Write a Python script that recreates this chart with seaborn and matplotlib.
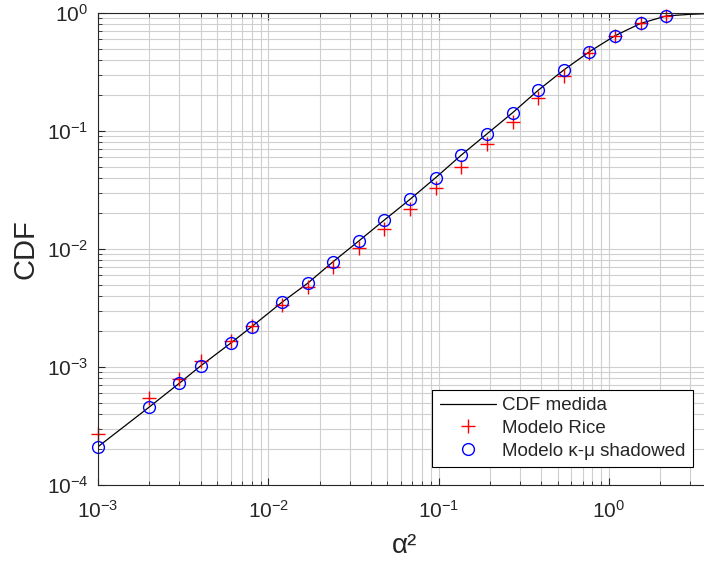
import numpy as np
import pandas as pd
import matplotlib
matplotlib.use("Agg")
import matplotlib.pyplot as plt
import seaborn as sns

# alpha^2 sample points (log spaced)
alpha2 = [0.001, 0.002, 0.003, 0.004, 0.006, 0.008, 0.012, 0.017, 0.024, 0.034,
          0.048, 0.068, 0.096, 0.136, 0.192, 0.272, 0.385, 0.543, 0.768, 1.086,
          1.536, 2.17]

# kappa-mu shadowed model
cdf_kmu = [2.11e-4, 4.58e-4, 7.28e-4, 1.02e-3, 1.59e-3, 2.2e-3, 3.53e-3, 5.12e-3,
           7.8e-3, 0.0117, 0.0176, 0.0264, 0.0402, 0.0626, 0.0944, 0.143, 0.222,
           0.329, 0.47, 0.642, 0.817, 0.944]

# Rice model
cdf_rice = [2.7e-4, 5.43e-4, 7.87e-4, 1.12e-3, 1.66e-3, 2.22e-3, 3.35e-3, 4.8e-3,
            7.1e-3, 0.0102, 0.0148, 0.0217, 0.0327, 0.0499, 0.0776, 0.1185, 0.191,
            0.292, 0.455, 0.642, 0.817, 0.944]

# measured CDF (follows the kappa-mu points, then flattens toward 1)
alpha2_meas = alpha2 + [3.0, 4.0]
cdf_meas = cdf_kmu + [0.975, 0.99]

sns.set_theme(style="ticks")
plt.rcParams['font.family'] = ['Liberation Sans', 'DejaVu Sans']
plt.rcParams['mathtext.fontset'] = 'custom'
plt.rcParams['mathtext.rm'] = 'Liberation Sans'
plt.rcParams['mathtext.it'] = 'Liberation Sans:italic'
plt.rcParams['mathtext.bf'] = 'Liberation Sans:bold'

fig = plt.figure(figsize=(7.04, 5.63), dpi=100)
ax = fig.add_axes([98 / 704, 78 / 563, 613.5 / 704, 472 / 563])

df_meas = pd.DataFrame({'x': alpha2_meas, 'y': cdf_meas})
df_rice = pd.DataFrame({'x': alpha2, 'y': cdf_rice})
df_kmu = pd.DataFrame({'x': alpha2, 'y': cdf_kmu})

sns.lineplot(data=df_meas, x='x', y='y', ax=ax, color='black', linewidth=0.9,
             label='CDF medida')
sns.lineplot(data=df_rice, x='x', y='y', ax=ax, color='red', linestyle='none',
             marker='+', markersize=10, markeredgewidth=1.0,
             markeredgecolor='red', clip_on=False, label='Modelo Rice')
sns.lineplot(data=df_kmu, x='x', y='y', ax=ax, linestyle='none', marker='o',
             markersize=8.5, markerfacecolor='none', markeredgecolor='blue',
             markeredgewidth=1.0, color='blue', clip_on=False,
             label='Modelo κ-μ shadowed')

ax.set_xscale('log')
ax.set_yscale('log')
ax.set_xlim(1e-3, 4)
ax.set_ylim(1e-4, 1)

ax.grid(True, which='both', color='#cfcfcf', linewidth=0.8)
ax.set_axisbelow(True)
ax.tick_params(which='both', direction='in', top=True, right=True,
               colors='#262626', labelsize=15)
ax.tick_params(axis='x', which='major', pad=11)
ax.tick_params(axis='y', which='major', pad=7)
ax.tick_params(which='major', length=5, width=0.8)
ax.tick_params(which='minor', length=3, width=0.6)
for s in ax.spines.values():
    s.set_color('#262626')
    s.set_linewidth(0.8)

ax.set_xlabel('α²', fontsize=20, color='#262626', labelpad=8)
ax.set_ylabel('CDF', fontsize=21, color='#262626', labelpad=5)

leg = ax.legend(loc='lower right', bbox_to_anchor=(692.7 / 704, 95.7 / 563),
                bbox_transform=fig.transFigure, borderaxespad=0, fontsize=13.5,
                fancybox=False, framealpha=1, edgecolor='black',
                handlelength=3.0, handletextpad=0.3, labelspacing=0.3,
                borderpad=0.4)
leg.get_frame().set_linewidth(0.8)

fig.savefig('out.png', dpi=100)
